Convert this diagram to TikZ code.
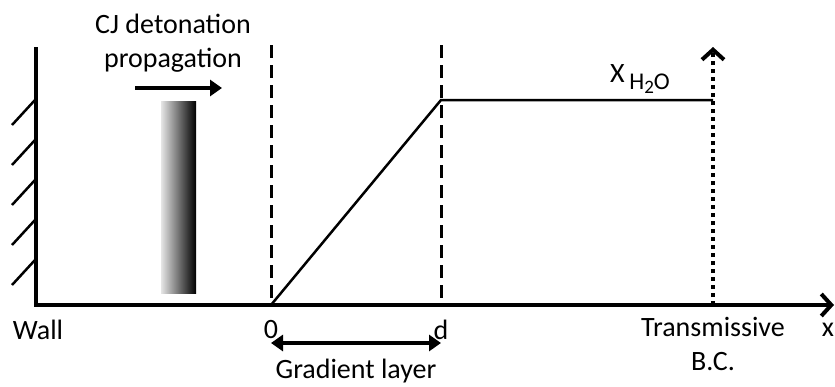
\documentclass[tikz,border=0pt]{standalone}
\usepackage{fontspec}
\setmainfont{Carlito}
\usetikzlibrary{arrows.meta}

\begin{document}
\begin{tikzpicture}[x=0.5pt,y=-0.5pt,font=\fontsize{14}{16}\selectfont,
  thickline/.style={line width=2pt},
  divider/.style={line width=1.5pt,dash pattern=on 6.5pt off 3.5pt}]
  \useasboundingbox (0,0) rectangle (835,386);
  % wall and x axis
  \coordinate (walltop) at (36,47);
  \coordinate (origin) at (36,305);
  \coordinate (xend) at (834,305);
  \draw[thickline,-{Straight Barb[length=5pt,width=11pt,line width=2pt]}] (walltop) -- (origin) -- (xend);
  \foreach \y in {100,140,...,260}
    \draw[line width=1.25pt] (35,\y) -- ++(-23,25);
  % detonation front
  \shade[left color=gray!20,right color=black] (161,101) rectangle (196,293);
  \coordinate (fronttail) at (135,88);
  \coordinate (fronthead) at (222,88);
  \draw[thickline,-{Triangle[length=6pt,width=8pt]}] (fronttail) -- (fronthead);
  \node[align=center,inner sep=0pt] (cj) at (173,43) {CJ detonation\\[1pt]propagation};
  % gradient layer
  \coordinate (zero) at (271,305);
  \coordinate (zerotop) at (271,45);
  \coordinate (d) at (441,305);
  \coordinate (dtop) at (441,45);
  \draw[divider] (zerotop) -- (zero);
  \draw[divider] (dtop) -- (d);
  \coordinate (kink) at (441,100);
  \coordinate (bcfoot) at (713,305);
  \coordinate (bclevel) at (713,100);
  \coordinate (bctop) at (713,47);
  \draw[line width=1.25pt] (zero) -- (kink) -- (bclevel);
  \draw[line width=2pt,dash pattern=on 2pt off 2pt,-{Straight Barb[length=5pt,width=11pt,line width=2pt]}] (bcfoot) -- (bctop);
  \node (h2o) at (640,79) {X\,\raisebox{-0.5ex}{\fontsize{12}{12}\selectfont H\raisebox{-0.3ex}{\fontsize{9.5}{9}\selectfont 2}O}};
  % labels under the axis
  \node (walllbl) at (38,330) {Wall};
  \node (zerolbl) at (271,330) {0};
  \node (dlbl) at (441,330) {d};
  \node (xlbl) at (828,330) {x};
  \node[align=center,inner sep=0pt] (bclbl) at (713,344) {Transmissive\\[1pt]B.C.};
  \coordinate (gradleft) at (271,343);
  \coordinate (gradright) at (441,343);
  \draw[thickline,{Triangle[length=6pt,width=8pt]}-{Triangle[length=6pt,width=8pt]}] (gradleft) -- (gradright);
  \node (gradlbl) at (356,371) {Gradient layer};
\end{tikzpicture}
\end{document}
